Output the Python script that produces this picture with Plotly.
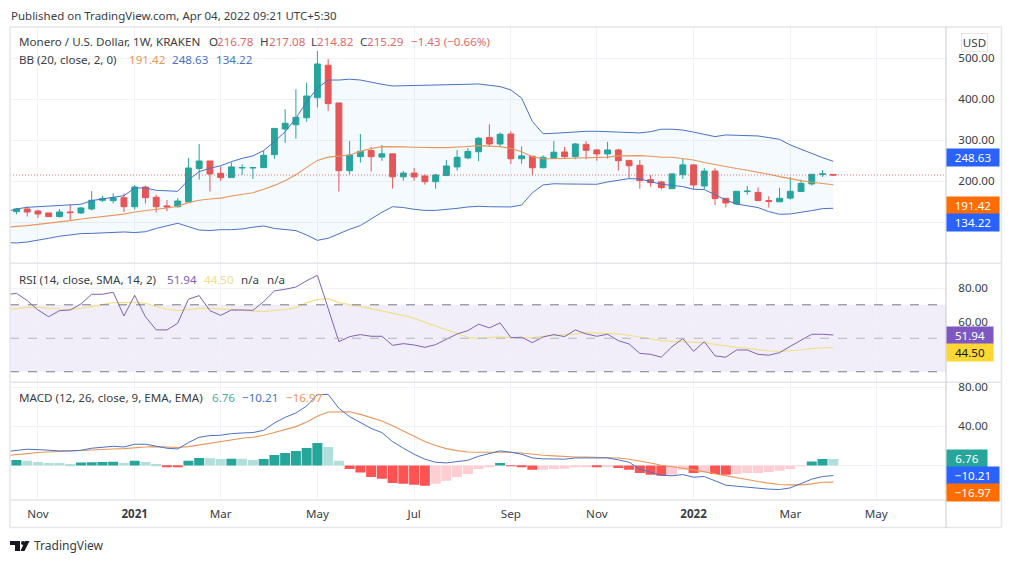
import pandas as pd
import plotly.graph_objects as go
from plotly.subplots import make_subplots

W = 1012
H = 563

# weekly bars, monday open time
dates = pd.date_range("2020-10-19", periods=77, freq="W-MON")
# indicators start one week earlier, they run off the left edge
dates_ind = pd.date_range("2020-10-12", periods=78, freq="W-MON")

opens = [126, 132.5, 127.6, 122.8, 113.8, 125.2, 122.8, 132.5, 153.7, 152.8, 160, 138, 186, 161, 140, 138,
         149.6, 231, 249.6, 219.5, 209, 232.5, 232.5, 233.3, 265, 327.6, 338, 355, 404, 483, 391, 226,
         260, 275, 259, 267, 211, 220, 213, 199, 214, 235, 257, 272, 307, 291, 315.4, 255, 261, 233,
         256, 271.5, 260, 290, 276.4, 266.7, 276.4, 251, 239, 204, 198.4, 182, 216, 240, 188.6, 225,
         158.5, 144.7, 175, 173, 153, 150, 159, 175, 193.5, 217, 216.78]
highs = [135, 139, 130, 123, 132.5, 144, 136.6, 176, 165, 170.7, 170.7, 191, 189.4, 166.7, 154.5, 159,
         257, 291, 249.6, 236, 246, 241.5, 235, 275, 329, 376, 424, 440.6, 518, 498, 391, 298.4,
         315.4, 284, 288.6, 267, 225, 232.5, 217, 218, 252, 276.4, 281, 308, 339, 319.5, 322, 285, 261, 263.4,
         298.4, 284, 293.5, 297.6, 279, 296, 279, 251, 252, 215.4, 201.6, 219.5, 255, 241.5, 232, 232,
         158.5, 175.6, 188.6, 185, 163.4, 184, 210.6, 204, 217, 227, 217.08]
lows = [119.5, 114, 111, 113.5, 112, 105, 120, 129, 150, 146, 125, 131, 146, 123.6, 127, 136,
        149.6, 204, 175, 201, 209, 216, 205.7, 233.3, 255, 294, 304, 345.5, 380, 372, 175, 217,
        245.5, 223.6, 250, 182, 201.6, 201.6, 192, 182, 214, 226, 253.7, 249, 284.6, 283, 242, 243, 214, 232,
        256, 255, 253.7, 253.7, 250, 255, 226, 208, 182, 187, 179.7, 182, 206, 180.5, 180.5, 142,
        136, 143, 167.5, 153, 136, 150, 155, 175, 189.4, 210.6, 214.82]
closes = [132.5, 125, 120.3, 113.8, 125.2, 123.6, 135, 153.7, 157.7, 160, 138, 186, 160, 138, 137.4, 152,
          232.5, 249.6, 218, 209, 235, 233.5, 233.5, 263.4, 329, 341.5, 356, 408, 486, 389.4, 226, 264,
          273, 260, 267, 211, 220, 210.6, 199, 215.4, 237.4, 258.5, 273, 305, 291, 314.6, 255, 262, 233, 258.5,
          271, 260, 291, 275.6, 266.7, 276.4, 250.4, 238, 201.6, 196.7, 184.5, 218, 240, 191, 225, 157.7,
          147, 175.6, 176, 153, 151, 158.5, 175.6, 195, 217, 218, 215.29]

bb_upper = [126, 132.5, 136.6, 138, 139, 140.6, 141.5, 144, 153, 157, 160, 165, 183.7, 183.7, 178, 177, 175.6,
            203, 223.6, 231.7, 238, 248, 256, 262, 275, 296.7, 321, 353.7, 394, 427, 447, 447, 449,
            447, 441.5, 436.6, 432.5, 433, 434, 434, 434, 434, 435, 436.6, 437.4, 435, 431, 422.8, 403, 346, 316,
            317, 318.7, 321, 322, 322, 321, 320, 318.7, 318, 321, 327, 327, 325, 320, 314.6, 309,
            313, 312, 312, 310.6, 306.5, 302.4, 288.6, 278, 269, 257.7, 248.63]
bb_basis = [88, 89.4, 92, 95, 97.6, 101, 104, 108, 111, 114.6, 117, 120, 125, 127.6, 131.7, 135, 139,
            148, 153.7, 157, 159, 164, 168, 172, 180.5, 190, 201.6, 216, 234, 251, 259, 262, 264,
            273, 280, 284.6, 285, 284, 283, 282, 282, 282, 283, 285, 287, 285, 284.6, 280.5, 272, 260, 255,
            255, 256, 257, 257, 257.7, 259, 262, 262.6, 262.6, 261, 258.5, 258.5, 256, 252, 246, 240.6,
            235, 231, 227, 222.8, 217, 211.4, 205.7, 201.6, 197.6, 195, 191.42]
bb_lower = [50.4, 49.6, 52, 56, 61, 66, 70, 72.4, 73, 74, 75, 76.4, 75, 77, 85, 92, 97.6,
            89.4, 81, 80, 82, 82, 83.7, 88, 91, 85, 82, 79.7, 69, 56, 61, 73, 83,
            92, 108, 124.4, 138, 136, 131.7, 129, 129, 131, 134, 137.4, 139, 138, 137.4, 137.4, 142, 172, 191,
            194, 193.5, 193.5, 192.7, 192.7, 198.4, 203, 206.5, 205.7, 200, 192.7, 190, 187, 180.5, 179.7, 167.5,
            154.5, 144.7, 140.6, 135.8, 126, 119.5, 120.3, 123.6, 128.5, 133.3, 134.22]

rsi = [75.9, 76.9, 72.5, 66.9, 62.9, 66.5, 66.9, 70.5, 76.3, 76.3, 77.5, 63.3, 75.7, 62.9, 55, 55, 59,
       73.3, 75.5, 66.5, 63.7, 66.9, 66.9, 66.7, 71.9, 78.3, 79.3, 80.6, 84.4, 87.6, 67.9, 48,
       51, 52.2, 51.2, 51.2, 45.8, 46.8, 46, 44.6, 46.2, 49.4, 52.6, 54.6, 58.4, 56.2, 59.2, 50.4, 50.6, 47.4,
       50.8, 52.2, 51, 55, 52.6, 51.2, 52.4, 48.6, 46.6, 41, 40.4, 38.7,
       45, 49.8, 42.2, 48, 39.5, 38.7, 43, 43, 40.4, 39.9, 41.4, 45.2, 48.8, 52.4, 52.4, 51.94]
rsi_ma = [66.9, 67.7, 68.5, 68.5, 67.9, 67.5, 67.3, 67.9, 69.1, 70.3, 71.3, 71.3, 71.5, 70.9, 68.9, 67.5, 66.5,
          67.1, 67.9, 67.9, 67.5, 67.3, 66.9, 66.5, 65.9, 66.7, 67.1, 68.3, 71.3, 73.1, 73.7, 71.3,
          69.9, 68.9, 67.7, 66.5, 65.1, 63.7, 61.9, 59.6, 57.4, 55, 52.6, 50.6, 50, 50.4, 50.8, 50.4, 50.6, 50.4,
          51.2, 51.6, 51.8, 52.6, 53.4, 53.2, 53, 52.6, 51.8, 50.6, 49.4, 48.6,
          48.2, 48, 47.8, 47.4, 46.4, 45.4, 44.6, 44, 43, 42.4, 42.2, 42.4, 43, 44, 44.4, 44.5]

macd = [14.3, 15.6, 16.7, 16.3, 15.3, 15, 15, 15.6, 17.7, 19, 19.7, 19, 21.8, 21.8, 20, 17.7, 17,
        23.5, 28.9, 30.6, 31, 32.6, 33.3, 33.7, 36, 43.5, 49.3, 53.7, 60.9, 72.4, 72.8, 58.5,
        50, 43.9, 38, 33.7, 24.5, 17.7, 11.6, 6.5, 3.4, 2.7, 3.7, 5.4, 9.5, 11.9, 15, 13.6, 11.6, 7.8,
        6.8, 6.8, 6.5, 7.8, 7.8, 7.8, 7.8, 5.8, 3.4, -3.7, -7.1, -9.9,
        -10.5, -9.2, -11.9, -11.2, -15.6, -20.1, -21.1, -21.8, -23.1, -24.1, -24.5, -22.8, -18.7, -13.9, -11.2, -10.21]
macd_signal = [10.2, 10.9, 12.2, 13.3, 13.9, 14.3, 14.6, 15, 15.6, 16.3, 17, 17.3, 18.4, 19, 19.4, 19, 18.4,
               19.4, 21.1, 23.1, 24.8, 26.5, 27.9, 28.9, 30.9, 33.7, 36.4, 39.8, 44.5, 50.3, 54.7, 55,
               55, 52.3, 49.3, 45.6, 40.8, 35.4, 29.6, 24.5, 20.4, 17.3, 15.3, 13.9, 13.6, 13.6, 13.9, 13.6, 12.9, 11.6,
               10.5, 9.9, 9.2, 8.8, 8.8, 8.5, 8.5, 7.8, 6.5, 4.8, 2.7, 0.3,
               -1, -2.7, -4.4, -6.5, -8.5, -10.5, -12.6, -14.6, -16.3, -18, -19.4, -19.7, -19.7, -18.7, -17, -16.97]
macd_hist = [5.8, 4.8, 3.7, 2.7, 2.6, 1.7, 3.1, 3.5, 3.7, 3.9, 2.7, 4.8, 3.7, 1.7, -1.4, -1.5,
             4.8, 7.8, 7.6, 6.8, 7.0, 6.9, 5.8, 6.8, 10.9, 12.9, 15, 18, 23.1, 19, 4.8,
             -3.4, -7.1, -11.6, -13.6, -17.7, -18.7, -19.7, -20.7, -18.7, -15.6, -11.6, -8.5, -3.4, -1.4, 2.7,
             -0.7, -1.4, -4.4, -4.3, -3.4, -3.3, -1.4, -1.3, -1.4, -1.2, -2.4, -4.4, -7.5, -9.5, -10.5,
             -9.5, -4.4, -7.5, -6.5, -8.5, -9.5, -8.5, -7.6, -7.5, -6.5, -5.4, -3.4, -0.3, 4.1, 6.8, 6.76]

# gridlines stay under the value tags, the labels there are covered in the original
price_ticks = [100, 200, 300, 400, 500]
price_labels = ["", "200.00", "300.00", "400.00", "500.00"]
rsi_ticks = [40, 60, 80]
rsi_labels = ["", "60.00", "80.00"]
macd_ticks = [0, 40, 80]
macd_labels = ["", "40.00", "80.00"]
time_ticks = ["2020-11-02", "2021-01-04", "2021-03-01", "2021-05-03", "2021-07-05", "2021-09-06",
              "2021-11-01", "2022-01-03", "2022-03-07", "2022-05-02"]
time_labels = ["Nov", "<b>2021</b>", "Mar", "May", "Jul", "Sep", "Nov", "<b>2022</b>", "Mar", "May"]

GREEN = "#26a69a"
RED = "#ef5350"
BLUE = "#4a72c4"
ORANGE = "#e8965a"
PURPLE = "#7e62b4"
YELLOW = "#f0e08c"
GRID = "#f0f2f7"
FRAME = "#e4e6ea"
TEXT = "#3a3d45"
FONT = "Noto Sans"
FSIZE = 11.6


def px(x):
    return x / W


def py(y):
    return 1 - y / H


# histogram colours, same rule the indicator uses
hist_colors = []
for i, v in enumerate(macd_hist):
    rising = i == 0 or v > macd_hist[i - 1]
    if v >= 0:
        hist_colors.append("#26a69a" if rising else "#b2dfdb")
    else:
        hist_colors.append("#ffcdd2" if rising else "#ff5252")

fig = make_subplots(rows=3, cols=1, shared_xaxes=True, vertical_spacing=0)

# bollinger
fig.add_scatter(x=dates_ind, y=bb_upper, mode="lines", line=dict(color=BLUE, width=1), row=1, col=1)
fig.add_scatter(x=dates_ind, y=bb_lower, mode="lines", line=dict(color=BLUE, width=1),
                fill="tonexty", fillcolor="rgba(33,150,243,0.05)", row=1, col=1)
fig.add_scatter(x=dates_ind, y=bb_basis, mode="lines", line=dict(color=ORANGE, width=1.1), row=1, col=1)

fig.add_trace(go.Candlestick(x=dates, open=opens, high=highs, low=lows, close=closes, whiskerwidth=0,
                             increasing=dict(line=dict(color=GREEN, width=1), fillcolor=GREEN),
                             decreasing=dict(line=dict(color=RED, width=1), fillcolor=RED)),
              row=1, col=1)

fig.add_scatter(x=dates_ind, y=rsi_ma, mode="lines", line=dict(color=YELLOW, width=1.2), row=2, col=1)
fig.add_scatter(x=dates_ind, y=rsi, mode="lines", line=dict(color=PURPLE, width=1), row=2, col=1)

fig.add_bar(x=dates, y=macd_hist, marker=dict(color=hist_colors, line=dict(width=0)), row=3, col=1)
fig.add_scatter(x=dates_ind, y=macd_signal, mode="lines", line=dict(color=ORANGE, width=1.1), row=3, col=1)
fig.add_scatter(x=dates_ind, y=macd, mode="lines", line=dict(color=BLUE, width=1), row=3, col=1)

fig.update_xaxes(domain=[px(10), px(946)], range=["2020-10-14 19:00", "2022-06-16 10:00"],
                 tickvals=time_ticks, ticktext=time_labels, showgrid=True, gridcolor=GRID, gridwidth=1,
                 zeroline=False, showline=False, rangeslider_visible=False, automargin=False,
                 ticks="outside", ticklen=3, tickcolor="rgba(0,0,0,0)",
                 tickfont=dict(family=FONT, size=FSIZE, color=TEXT))

axis_style = dict(side="right", ticks="outside", ticklen=9, tickcolor="rgba(0,0,0,0)", showgrid=True,
                  gridcolor=GRID, gridwidth=1, zeroline=False, showline=False, automargin=False,
                  tickfont=dict(family=FONT, size=FSIZE, color=TEXT))
fig.update_yaxes(domain=[py(263.3), py(27)], range=[0, 576.3], tickvals=price_ticks, ticktext=price_labels,
                 row=1, col=1, **axis_style)
fig.update_yaxes(domain=[py(382.3), py(263.3)], range=[23.7, 94.8], tickvals=rsi_ticks, ticktext=rsi_labels,
                 row=2, col=1, **axis_style)
fig.update_yaxes(domain=[py(500), py(382.3)], range=[-35.2, 85.1], tickvals=macd_ticks, ticktext=macd_labels,
                 row=3, col=1, **axis_style)

# last price
fig.add_shape(type="line", xref="paper", yref="y", x0=px(10), x1=px(946), y0=closes[-1], y1=closes[-1],
              line=dict(color="rgba(200,90,90,0.8)", width=1, dash="1px,2px"))

# rsi band and levels
fig.add_shape(type="rect", xref="paper", yref="y2", x0=px(10), x1=px(946), y0=30, y1=70, layer="below",
              fillcolor="rgba(126,87,194,0.1)", line=dict(width=0))
for level, col in [(70, "#787b86"), (50, "#b2b5be"), (30, "#787b86")]:
    fig.add_shape(type="line", xref="paper", yref="y2", x0=px(10), x1=px(946), y0=level, y1=level,
                  line=dict(color=col, width=1, dash="dash"))

# frame and pane separators
for x0, y0, x1, y1, col, wd in [(10, 27, 1001.5, 27, FRAME, 1.5), (10, 27, 10, 527.5, FRAME, 1.5),
                                (1001.5, 27, 1001.5, 527.5, FRAME, 1.5), (10, 527.5, 1001.5, 527.5, FRAME, 1.5),
                                (10, 263.3, 1001.5, 263.3, FRAME, 1.5), (10, 382.3, 1001.5, 382.3, FRAME, 1.5),
                                (10, 500, 946, 500, FRAME, 1.5), (946, 27, 946, 527.5, "#c8cad0", 1)]:
    fig.add_shape(type="line", xref="paper", yref="paper", x0=px(x0), y0=py(y0), x1=px(x1), y1=py(y1),
                  line=dict(color=col, width=wd))

# tradingview mark
logo = "M {} {} L {} {} L {} {} L {} {} L {} {} L {} {} Z".format(
    px(10), py(541), px(20), py(541), px(20), py(551), px(15), py(551), px(15), py(545), px(10), py(545))
slash = "M {} {} L {} {} L {} {} L {} {} Z".format(
    px(25), py(541), px(29.5), py(541), px(24.5), py(551), px(20.5), py(551))
for path in [logo, slash]:
    fig.add_shape(type="path", xref="paper", yref="paper", path=path, fillcolor="#131722", line=dict(width=0))
fig.add_shape(type="circle", xref="paper", yref="paper", x0=px(21), x1=px(25), y0=py(545), y1=py(541),
              fillcolor="#131722", line=dict(width=0))


def note(x, y, text, color=TEXT, size=FSIZE):
    fig.add_annotation(xref="paper", yref="paper", x=px(x), y=py(y), text=text, showarrow=False,
                       xanchor="left", yanchor="middle", align="left", borderpad=0,
                       font=dict(family=FONT, size=size, color=color))


red_txt = "#e0696a"
note(10, 15, "Published on TradingView.com, Apr 04, 2022 09:21 UTC+5:30", size=11.5)
note(18, 42, "Monero / U.S. Dollar, 1W, KRAKEN")
for x, text, color in [(207.5, "O", TEXT), (216, "216.78", red_txt), (259, "H", TEXT), (268, "217.08", red_txt),
                       (310, "L", TEXT), (316, "214.82", red_txt), (359, "C", TEXT), (366, "215.29", red_txt),
                       (410, "−1.43 (−0.66%)", red_txt)]:
    note(x, 42, text, color)
note(18, 59, "BB (20, close, 2, 0)")
for x, text, color in [(128, "191.42", ORANGE), (171, "248.63", BLUE), (214.5, "134.22", BLUE)]:
    note(x, 59, text, color)
note(18, 279, "RSI (14, close, SMA, 14, 2)")
for x, text, color in [(166, "51.94", PURPLE), (203, "44.50", "#ece08c"), (240, "n/a", TEXT), (266, "n/a", TEXT)]:
    note(x, 279, text, color)
note(18, 397, "MACD (12, 26, close, 9, EMA, EMA)")
for x, text, color in [(211, "6.76", "#4fae9f"), (241, "−10.21", BLUE), (285, "−16.97", ORANGE)]:
    note(x, 397, text, color)
note(33, 545, "TradingView", size=12)

# value tags on the price scale
tags = [("248.63", 157.5, 52, "#2962ff", "white"), ("191.42", 205.5, 52, "#ff6d00", "white"),
        ("134.22", 222.5, 52, "#2962ff", "white"), ("51.94", 335.5, 46, "#7e57c2", "white"),
        ("44.50", 352.5, 46, "#fdd835", "#131722"), ("6.76", 458.5, 40, "#26a69a", "white"),
        ("−10.21", 475.5, 52, "#2962ff", "white"), ("−16.97", 492.5, 52, "#ff6d00", "white")]
for text, y, wd, bg, fg in tags:
    fig.add_annotation(xref="paper", yref="paper", x=px(946), y=py(y), text=text, showarrow=False,
                       xanchor="left", yanchor="middle", width=wd, height=17, align="center",
                       bgcolor=bg, borderpad=0, font=dict(family=FONT, size=FSIZE, color=fg))

fig.add_annotation(xref="paper", yref="paper", x=px(974.5), y=py(42.5), text="USD", showarrow=False,
                   xanchor="center", yanchor="middle", width=25, height=17, bgcolor="white",
                   bordercolor=FRAME, borderwidth=1, borderpad=0,
                   font=dict(family=FONT, size=FSIZE, color=TEXT))

fig.update_layout(width=W, height=H, margin=dict(l=0, r=0, t=0, b=0), paper_bgcolor="white",
                  plot_bgcolor="white", showlegend=False, bargap=0.07, boxgap=0.22,
                  font=dict(family=FONT))

fig.write_html("out.html", config=dict(displayModeBar=False), post_script="document.body.style.margin='0';")
